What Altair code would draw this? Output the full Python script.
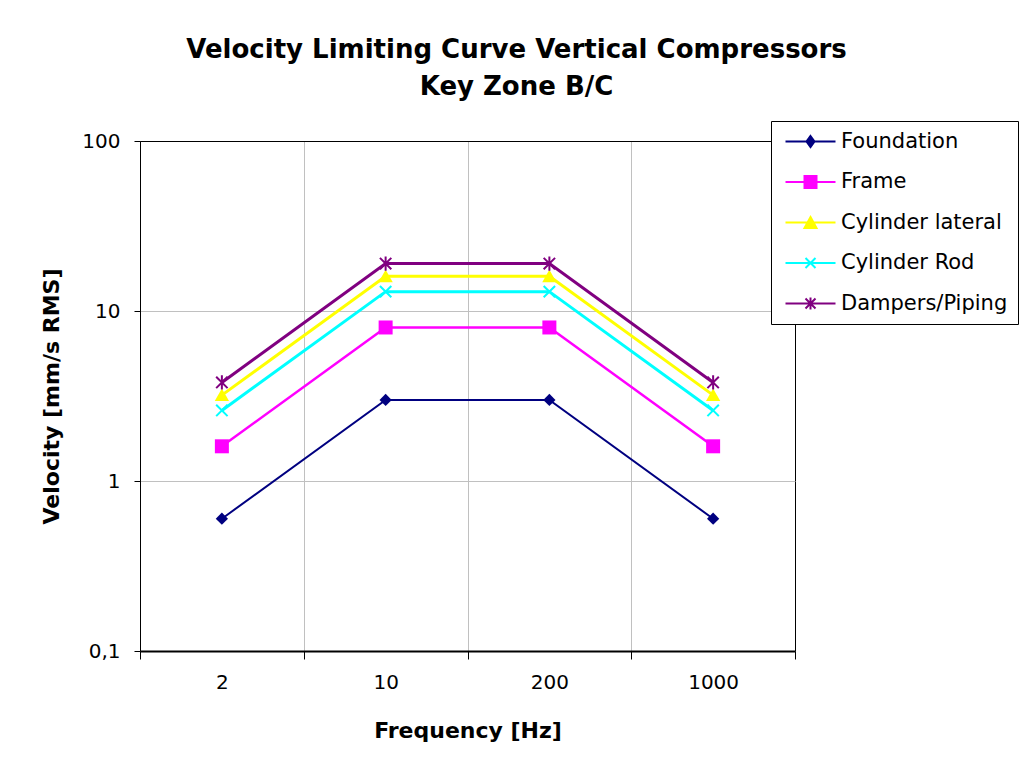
import altair as alt
import pandas as pd

# ---- data ----
freq_labels = ["2", "10", "200", "1000"]
series_names = ["Foundation", "Frame", "Cylinder lateral", "Cylinder Rod", "Dampers/Piping"]
foundation = [0.6, 3, 3, 0.6]
frame = [1.6, 8, 8, 1.6]
cyl_lateral = [3.2, 16, 16, 3.2]
cyl_rod = [2.6, 13, 13, 2.6]
dampers = [3.8, 19, 19, 3.8]
series_values = [foundation, frame, cyl_lateral, cyl_rod, dampers]
y_ticks = [0.1, 1, 10, 100]

# ---- styles ----
colors = ["#000080", "#FF00FF", "#FFFF00", "#00FFFF", "#800080"]
line_widths = [2, 2.5, 3, 3, 3]
marker_shapes = [
    "M0,-1L1,0L0,1L-1,0Z",
    "square",
    "M0,-1L1.1,0.9L-1.1,0.9Z",
    "M-1,-1L1,1M-1,1L1,-1",
    "M-1,-1L1,1M-1,1L1,-1M0,-1.25L0,1.25",
]
marker_sizes = [150, 196, 169, 130, 130]
marker_filled = [True, True, True, False, False]

c = 3.8  # legend glyph centre offset (in symbol units)
legend_shapes = [
    f"M{c-5},0H{c+5}M{c},-1.1L{c+0.8},0L{c},1.1L{c-0.8},0Z",
    f"M{c-5},0H{c+5}M{c-1.2},-1.2H{c+1.2}V1.2H{c-1.2}Z",
    f"M{c-5},0H{c+5}M{c},-1.1L{c+1.2},1.1L{c-1.2},1.1Z",
    f"M{c-5},0H{c+5}M{c-1},-1L{c+1},1M{c-1},1L{c+1},-1",
    f"M{c-5},0H{c+5}M{c-1},-1L{c+1},1M{c-1},1L{c+1},-1M{c},-1.2V1.2",
]

rows = []
for name, vals in zip(series_names, series_values):
    for f, v in zip(freq_labels, vals):
        rows.append({"series": name, "freq": f, "value": v})
df = pd.DataFrame(rows)

FONT = "DejaVu Sans"
GRID = {"condition": {"test": "datum.index >= 1", "value": "black"}, "value": "#c0c0c0"}

x_enc = alt.X(
    "freq:N",
    sort=freq_labels,
    bandPosition=0.5,
    scale=alt.Scale(type="band", paddingInner=0, paddingOuter=0),
    axis=alt.Axis(
        title="Frequency [Hz]",
        labelAngle=0,
        tickBand="extent",
        grid=True,
        gridColor=GRID,
        gridWidth=1,
        domainColor="black",
        domainWidth=2,
        tickColor="black",
        tickSize=8,
        labelFont=FONT,
        labelFontSize=20,
        labelColor="black",
        labelPadding=13,
        titleFont=FONT,
        titleFontSize=22,
        titleFontWeight="bold",
        titleColor="black",
        titlePadding=28,
    ),
)
y_enc = alt.Y(
    "value:Q",
    scale=alt.Scale(type="log", domain=[0.1, 100]),
    axis=alt.Axis(
        title="Velocity [mm/s RMS]",
        values=y_ticks,
        format="~g",
        labelExpr="replace(datum.label, '.', ',')",
        grid=True,
        gridColor=GRID,
        gridWidth=1,
        domainColor="black",
        tickColor="black",
        tickSize=6,
        labelFont=FONT,
        labelFontSize=20,
        labelColor="black",
        labelPadding=14,
        titleFont=FONT,
        titleFontSize=22,
        titleFontWeight="bold",
        titleColor="black",
        titlePadding=18,
    ),
)

legend_spec = alt.Legend(
    title=None,
    orient="none",
    legendX=631,
    legendY=-20,
    padding=10,
    rowPadding=18.5,
    symbolSize=100,
    symbolStrokeWidth=2,
    symbolOpacity=1,
    labelFont=FONT,
    labelFontSize=21,
    labelColor="black",
    labelOffset=39,
    labelLimit=400,
    strokeColor="black",
    fillColor="white",
)

base = alt.Chart(df)
layers = []
for i, name in enumerate(series_names):
    sub = base.transform_filter(alt.datum.series == name)
    layers.append(
        sub.mark_line(color=colors[i], strokeWidth=line_widths[i]).encode(x=x_enc, y=y_enc)
    )
    layers.append(
        sub.mark_point(
            shape=marker_shapes[i],
            size=marker_sizes[i],
            filled=marker_filled[i],
            color=colors[i],
            strokeWidth=2,
            opacity=1,
        ).encode(x=x_enc, y=y_enc)
    )

legend_layer = (
    base.transform_filter("false")
    .mark_point(size=100, strokeWidth=2, opacity=1)
    .encode(
        x=x_enc,
        y=y_enc,
        fill=alt.Fill("series:N", scale=alt.Scale(domain=series_names, range=colors), legend=legend_spec),
        stroke=alt.Stroke("series:N", scale=alt.Scale(domain=series_names, range=colors), legend=legend_spec),
        shape=alt.Shape("series:N", scale=alt.Scale(domain=series_names, range=legend_shapes), legend=legend_spec),
    )
)
layers.append(legend_layer)

chart = (
    alt.layer(*layers)
    .properties(
        width=655,
        height=510,
        autosize=alt.AutoSizeParams(type="none"),
        padding={"left": 132, "top": 133, "right": 225, "bottom": 118},
        title=alt.TitleParams(
            ["Velocity Limiting Curve Vertical Compressors", "Key Zone B/C"],
            font=FONT,
            fontSize=26,
            fontWeight="bold",
            color="black",
            anchor="middle",
            dx=49,
            offset=21,
            lineHeight=37,
        ),
        background="white",
    )
    .configure_view(stroke="black", strokeWidth=1)
)

chart.save("out.html", embed_options={"renderer": "svg", "actions": False})
